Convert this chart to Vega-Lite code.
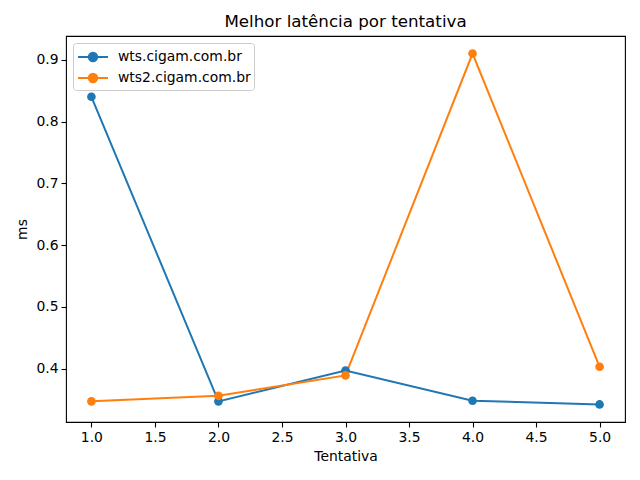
{
  "$schema": "https://vega.github.io/schema/vega-lite/v6.json",
  "autosize": {"type": "none"},
  "width": 559,
  "height": 386,
  "padding": {"left": 66, "top": 36, "right": 15, "bottom": 58},
  "background": "white",
  "title": {"text": "Melhor latência por tentativa", "font": "DejaVu Sans", "fontSize": 16.7, "fontWeight": "normal", "color": "black", "offset": 5},
  "config": {
    "view": {"stroke": "black", "strokeWidth": 1.1},
    "axis": {"grid": false, "domain": false, "tickColor": "black", "tickSize": 5, "tickWidth": 1.1, "labelFont": "DejaVu Sans", "labelFontSize": 13.9, "labelColor": "black", "titleFont": "DejaVu Sans", "titleFontSize": 13.9, "titleFontWeight": "normal", "titleColor": "black", "labelPadding": 3}
  },
  "data": {"values": [
    {"tentativa": 1, "host": "wts.cigam.com.br", "ms": 0.840},
    {"tentativa": 2, "host": "wts.cigam.com.br", "ms": 0.347},
    {"tentativa": 3, "host": "wts.cigam.com.br", "ms": 0.397},
    {"tentativa": 4, "host": "wts.cigam.com.br", "ms": 0.348},
    {"tentativa": 5, "host": "wts.cigam.com.br", "ms": 0.342},
    {"tentativa": 1, "host": "wts2.cigam.com.br", "ms": 0.347},
    {"tentativa": 2, "host": "wts2.cigam.com.br", "ms": 0.356},
    {"tentativa": 3, "host": "wts2.cigam.com.br", "ms": 0.389},
    {"tentativa": 4, "host": "wts2.cigam.com.br", "ms": 0.910},
    {"tentativa": 5, "host": "wts2.cigam.com.br", "ms": 0.403}
  ]},
  "encoding": {
    "x": {"field": "tentativa", "type": "quantitative", "title": "Tentativa",
      "scale": {"domain": [0.8, 5.2], "nice": false, "zero": false},
      "axis": {"values": [1, 1.5, 2, 2.5, 3, 3.5, 4, 4.5, 5], "format": ".1f", "titlePadding": 6}},
    "y": {"field": "ms", "type": "quantitative", "title": "ms",
      "scale": {"domain": [0.3136, 0.9384], "nice": false, "zero": false},
      "axis": {"values": [0.4, 0.5, 0.6, 0.7, 0.8, 0.9], "format": ".1f", "titlePadding": 6}},
    "color": {"field": "host", "type": "nominal",
      "scale": {"domain": ["wts.cigam.com.br", "wts2.cigam.com.br"], "range": ["#1f77b4", "#ff7f0e"]},
      "legend": {"title": null, "orient": "none", "legendX": 7, "legendY": 7,
        "symbolType": "M-1.5,0H1.5M0.42,0A0.42,0.42 0 1,1 -0.42,0A0.42,0.42 0 1,1 0.42,0Z",
        "symbolSize": 400, "symbolStrokeWidth": 2, "symbolFillColor": null,
        "labelFont": "DejaVu Sans", "labelFontSize": 13.9, "labelColor": "black",
        "fillColor": "white", "strokeColor": "#cccccc", "cornerRadius": 3, "padding": 3,
        "rowPadding": 1, "labelOffset": 14, "symbolOffset": 6}}
  },
  "layer": [
    {"mark": {"type": "line", "strokeWidth": 2}},
    {"mark": {"type": "point", "filled": true, "opacity": 1, "size": 75, "shape": "circle"}}
  ]
}
